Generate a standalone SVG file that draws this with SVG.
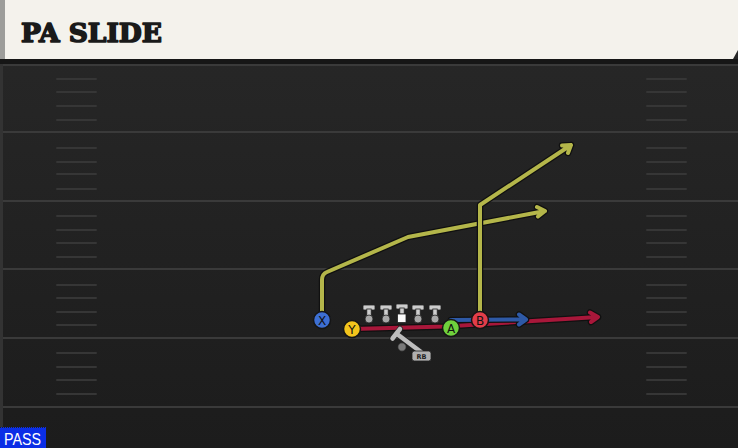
<svg xmlns="http://www.w3.org/2000/svg" width="738" height="448" viewBox="0 0 738 448">
<defs>
<linearGradient id="field" x1="0" y1="0" x2="0" y2="1">
<stop offset="0" stop-color="#282828"/>
<stop offset="1" stop-color="#1c1c1c"/>
</linearGradient>
<style>
.yl{stroke:#3a3a3a;stroke-width:2}
.hash{stroke:#363636;stroke-width:2;stroke-linecap:round}
.route{fill:none;stroke-width:4;stroke-linejoin:round;stroke-linecap:round}
.halo{fill:none;stroke:#101010;stroke-width:6.5;stroke-linejoin:round;stroke-linecap:round}
.ylw{stroke:#b4b64a}
.blu{stroke:#2e59a6}
.red{stroke:#a8173a}
.pl{stroke:#151515;stroke-width:1.5}
.lt{font-family:"DejaVu Sans",sans-serif;font-size:12px;fill:#111;text-anchor:middle}
.ol{fill:#cdcdcd;stroke:#222;stroke-width:0.8}
.oc{fill:#a8a8a8;stroke:#222;stroke-width:0.8}
</style>
</defs>
<rect width="738" height="448" fill="url(#field)"/>
<rect x="0" y="0" width="3" height="448" fill="#333"/>
<!-- header -->
<rect x="0" y="59" width="738" height="5" fill="#161616"/>
<path d="M5 0 H738 V50 L733 59 H5 Z" fill="#f4f2ec"/>
<rect x="0" y="0" width="5" height="59" fill="#9d9d9a"/>
<text x="21" y="42" font-family="'DejaVu Serif',serif" font-weight="bold" font-size="26" fill="#1a1a1a" stroke="#1a1a1a" stroke-width="1.6" stroke-linejoin="round" textLength="141" lengthAdjust="spacingAndGlyphs">PA SLIDE</text>
<!-- yard lines -->
<g id="field-lines">
<line class="yl" x1="3" y1="65" x2="738" y2="65"/>
<line class="yl" x1="3" y1="132" x2="738" y2="132"/>
<line class="yl" x1="3" y1="201" x2="738" y2="201"/>
<line class="yl" x1="3" y1="269" x2="738" y2="269"/>
<line class="yl" x1="3" y1="338" x2="738" y2="338"/>
<line class="yl" x1="3" y1="407" x2="738" y2="407"/>
</g>
<g id="hashes">
<path class="hash" d="M57 79H96M57 92H96M57 106H96M57 120H96M57 148H96M57 162H96M57 174H96M57 189H96M57 216H96M57 230H96M57 243H96M57 257H96M57 285H96M57 298H96M57 312H96M57 325H96M57 353H96M57 367H96M57 380H96M57 394H96"/>
<path class="hash" d="M647 79H686M647 92H686M647 106H686M647 120H686M647 148H686M647 162H686M647 174H686M647 189H686M647 216H686M647 230H686M647 243H686M647 257H686M647 285H686M647 298H686M647 312H686M647 325H686M647 353H686M647 367H686M647 380H686M647 394H686"/>
</g>
<!-- connectors -->
<g id="routes">
<path class="halo" d="M352 329 L445 326.5 L598 317 M590 312.5 L598 317 L591 322"/>
<path class="route red" d="M352 329 L445 326.5 L598 317 M590 312.5 L598 317 L591 322"/>
<path class="halo" d="M451 320 L526 319.5 M519 314.5 L526 319.5 L519 324.5"/>
<path class="route blu" d="M451 320 L526 319.5 M519 314.5 L526 319.5 L519 324.5"/>
<path class="halo" d="M322 318 V280 Q322 274 327 272 L408 237 L545 211 M537 207 L545 211 L538 216.5"/>
<path class="route ylw" d="M322 318 V280 Q322 274 327 272 L408 237 L545 211 M537 207 L545 211 L538 216.5"/>
<path class="halo" d="M480 320 V205 L571 145 M562 145.5 L571 145 L568 153"/>
<path class="route ylw" d="M480 320 V205 L571 145 M562 145.5 L571 145 L568 153"/>
</g>
<!-- line -->
<g id="ol1"><rect class="ol" x="363" y="305" width="12" height="5" rx="1"/><rect class="ol" x="366.8" y="309" width="4.4" height="9"/><circle class="oc" cx="369" cy="319" r="4"/></g>
<g id="ol2"><rect class="ol" x="380" y="305" width="12" height="5" rx="1"/><rect class="ol" x="383.8" y="309" width="4.4" height="9"/><circle class="oc" cx="386" cy="319" r="4"/></g>
<g id="center"><rect class="ol" x="396" y="304" width="12" height="5" rx="1"/><rect class="ol" x="399.8" y="308" width="4.4" height="6"/><rect x="397.5" y="314" width="8.5" height="8.5" fill="#fafafa" stroke="#222" stroke-width="0.8"/></g>
<g id="ol4"><rect class="ol" x="412" y="305" width="12" height="5" rx="1"/><rect class="ol" x="415.8" y="309" width="4.4" height="9"/><circle class="oc" cx="418" cy="319" r="4"/></g>
<g id="ol5"><rect class="ol" x="429" y="305" width="12" height="5" rx="1"/><rect class="ol" x="432.8" y="309" width="4.4" height="9"/><circle class="oc" cx="435" cy="319" r="4"/></g>
<!-- RB -->
<g id="rb">
<line x1="397" y1="334" x2="421" y2="352" stroke="#222" stroke-width="6" stroke-linecap="round"/>
<line x1="392.5" y1="338.5" x2="400" y2="329" stroke="#222" stroke-width="6" stroke-linecap="round"/>
<line x1="397" y1="334" x2="421" y2="352" stroke="#bdbdbd" stroke-width="4.5" stroke-linecap="round"/>
<line x1="392.5" y1="338.5" x2="400" y2="329" stroke="#bdbdbd" stroke-width="4.5" stroke-linecap="round"/>
<circle cx="402" cy="347" r="4.2" fill="#7a7a7a" stroke="#222" stroke-width="0.8"/>
<rect x="412" y="351" width="19" height="10" rx="2.5" fill="#b0b0b0" stroke="#222" stroke-width="0.8"/>
<text x="421.5" y="359" font-family="'DejaVu Sans',sans-serif" font-weight="bold" font-size="6.5" fill="#222" text-anchor="middle">RB</text>
</g>
<!-- skill players -->
<g id="X"><circle class="pl" cx="322" cy="320" r="8.5" fill="#3d6fd3"/><text class="lt" x="322" y="324.5">X</text></g>
<g id="Y"><circle class="pl" cx="352" cy="329" r="8.5" fill="#f2c41c"/><text class="lt" x="352" y="333.5">Y</text></g>
<g id="A"><circle class="pl" cx="451" cy="328" r="8.5" fill="#6fd13c"/><text class="lt" x="451" y="332.5">A</text></g>
<g id="B"><circle class="pl" cx="480" cy="320" r="8.5" fill="#e23d49"/><text class="lt" x="480" y="324.5">B</text></g>
<!-- PASS label -->
<g id="pass">
<rect x="0" y="427" width="46" height="21" fill="#0b2ee6"/>
<line x1="0" y1="427.5" x2="46" y2="427.5" stroke="#222" stroke-dasharray="1 1"/>
<text x="4" y="445" font-family="'Liberation Sans',sans-serif" font-size="16" fill="#fff" textLength="37" lengthAdjust="spacingAndGlyphs">PASS</text>
</g>
</svg>
